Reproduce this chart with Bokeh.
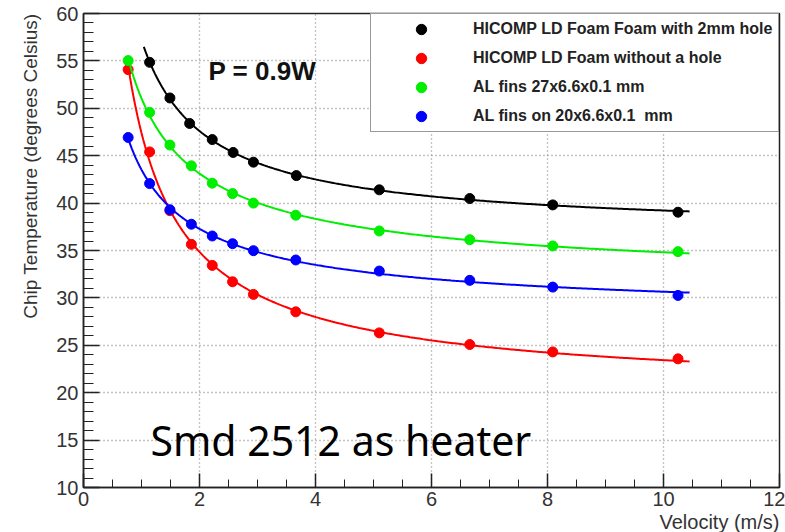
import numpy as np
from bokeh.plotting import figure
from bokeh.models import Range1d, SingleIntervalTicker, Label, Legend, LegendItem, Title
from bokeh.embed import file_html
from bokeh.resources import INLINE

# ---------------- data ----------------
series_names = [
    "HICOMP LD Foam Foam with 2mm hole",
    "HICOMP LD Foam without a hole",
    "AL fins 27x6.6x0.1 mm",
    "AL fins on 20x6.6x0.1  mm",
]
series_colors = ["#000000", "#ff0000", "#00ee00", "#0000ff"]

vel_black = [1.14, 1.49, 1.83, 2.22, 2.58, 2.93, 3.67, 5.10, 6.66, 8.09, 10.25]
temp_black = [54.85, 51.09, 48.4, 46.7, 45.34, 44.32, 42.9, 41.4, 40.48, 39.81, 39.04]

vel_other = [0.77, 1.14, 1.49, 1.86, 2.22, 2.57, 2.93, 3.66, 5.10, 6.66, 8.09, 10.25]
temp_red = [54.08, 45.4, 39.2, 35.65, 33.43, 31.7, 30.37, 28.53, 26.31, 25.08, 24.3, 23.57]
temp_green = [55.03, 49.57, 46.12, 43.93, 42.1, 41.0, 40.0, 38.72, 37.06, 36.14, 35.48, 34.88]
temp_blue = [46.92, 42.06, 39.3, 37.77, 36.53, 35.72, 34.98, 34.0, 32.83, 31.85, 31.14, 30.26]

fit_start = [1.04, 0.77, 0.77, 0.77]
fit_end = 10.45

x_title = "Velocity (m/s)"
y_title = "Chip Temperature (degrees Celsius)"
power_text = "P = 0.9W"
heater_text = "Smd 2512 as heater"

series_x = [vel_black, vel_other, vel_other, vel_other]
series_y = [temp_black, temp_red, temp_green, temp_blue]


def fit_curve(xs, ys, x0, x1):
    xs = np.asarray(xs, dtype=float)
    ys = np.asarray(ys, dtype=float)
    best = None
    for c in np.linspace(0.05, 4.0, 800):
        A = np.column_stack([np.ones_like(xs), xs ** (-c)])
        coef, *_ = np.linalg.lstsq(A, ys, rcond=None)
        r = float(np.sum((A @ coef - ys) ** 2))
        if best is None or r < best[0]:
            best = (r, c, coef)
    _, c, (a, b) = best
    xx = np.linspace(x0, x1, 300)
    return xx, a + b * xx ** (-c)


# ---------------- figure ----------------
p = figure(
    width=785, height=532,
    x_range=Range1d(0, 12), y_range=Range1d(10, 60),
    output_backend="svg", toolbar_location=None,
    min_border_left=83, min_border_right=6, min_border_top=13, min_border_bottom=45,
)
p.background_fill_color = "white"
p.border_fill_color = "white"
p.outline_line_color = "#222222"
p.outline_line_width = 1.5

p.xaxis.ticker = SingleIntervalTicker(interval=2, num_minor_ticks=4)
p.yaxis.ticker = SingleIntervalTicker(interval=5, num_minor_ticks=5)

for ax in (p.xaxis, p.yaxis):
    ax.axis_line_color = "#222222"
    ax.axis_line_width = 1.5
    ax.major_tick_line_color = "#222222"
    ax.minor_tick_line_color = "#222222"
    ax.major_tick_line_width = 1.5
    ax.major_tick_out = 0
    ax.minor_tick_out = 0
    ax.major_label_text_font = "Liberation Sans"
    ax.major_label_text_font_size = "20px"
    ax.major_label_text_color = "#333333"

p.xaxis.major_tick_in = 14
p.xaxis.minor_tick_in = 8
p.yaxis.major_tick_in = 16
p.yaxis.minor_tick_in = 10
p.xaxis.major_label_standoff = 4
p.yaxis.major_label_standoff = 5

for g in (p.xgrid, p.ygrid):
    g.grid_line_color = "#888888"
    g.grid_line_dash = "1 3"
    g.grid_line_width = 1.3

items = []
for name, color, xs, ys, x0 in zip(series_names, series_colors, series_x, series_y, fit_start):
    fx, fy = fit_curve(xs, ys, x0, fit_end)
    p.line(fx, fy, line_color=color, line_width=2)
    r = p.scatter(xs, ys, size=10, fill_color=color, line_color=color, marker="circle")
    items.append(LegendItem(label=name, renderers=[r]))

legend = Legend(
    items=items, location="top_right", margin=0,
    padding=2, spacing=3, glyph_width=96, glyph_height=26,
    label_standoff=4, label_width=303, label_height=26,
    label_text_font="Liberation Sans", label_text_font_size="16px",
    label_text_font_style="bold", label_text_color="#222222",
    border_line_color="#333333", border_line_width=1.5,
    background_fill_color="white", background_fill_alpha=1.0,
)
p.add_layout(legend)

p.add_layout(Label(x=2.155, y=53.9, text=power_text, text_font="Liberation Sans",
                   text_font_size="26px", text_font_style="bold", text_color="#111111",
                   text_baseline="alphabetic", text_align="left"))
p.add_layout(Label(x=1.155, y=15.04, text=heater_text, text_font="Noto Sans",
                   text_font_size="41px", text_color="#000000",
                   text_baseline="alphabetic", text_align="left"))

# axis titles aligned to the axis end (ROOT style)
p.add_layout(Title(text=x_title, align="right", text_font="Liberation Sans",
                   text_font_size="20px", text_font_style="normal",
                   text_color="#333333", standoff=0, offset=0), "below")
p.add_layout(Title(text=y_title, align="right", text_font="Liberation Sans",
                   text_font_size="19px", text_font_style="normal",
                   text_color="#333333", standoff=25, offset=0), "left")

open("out.html", "w").write(file_html(p, INLINE))
